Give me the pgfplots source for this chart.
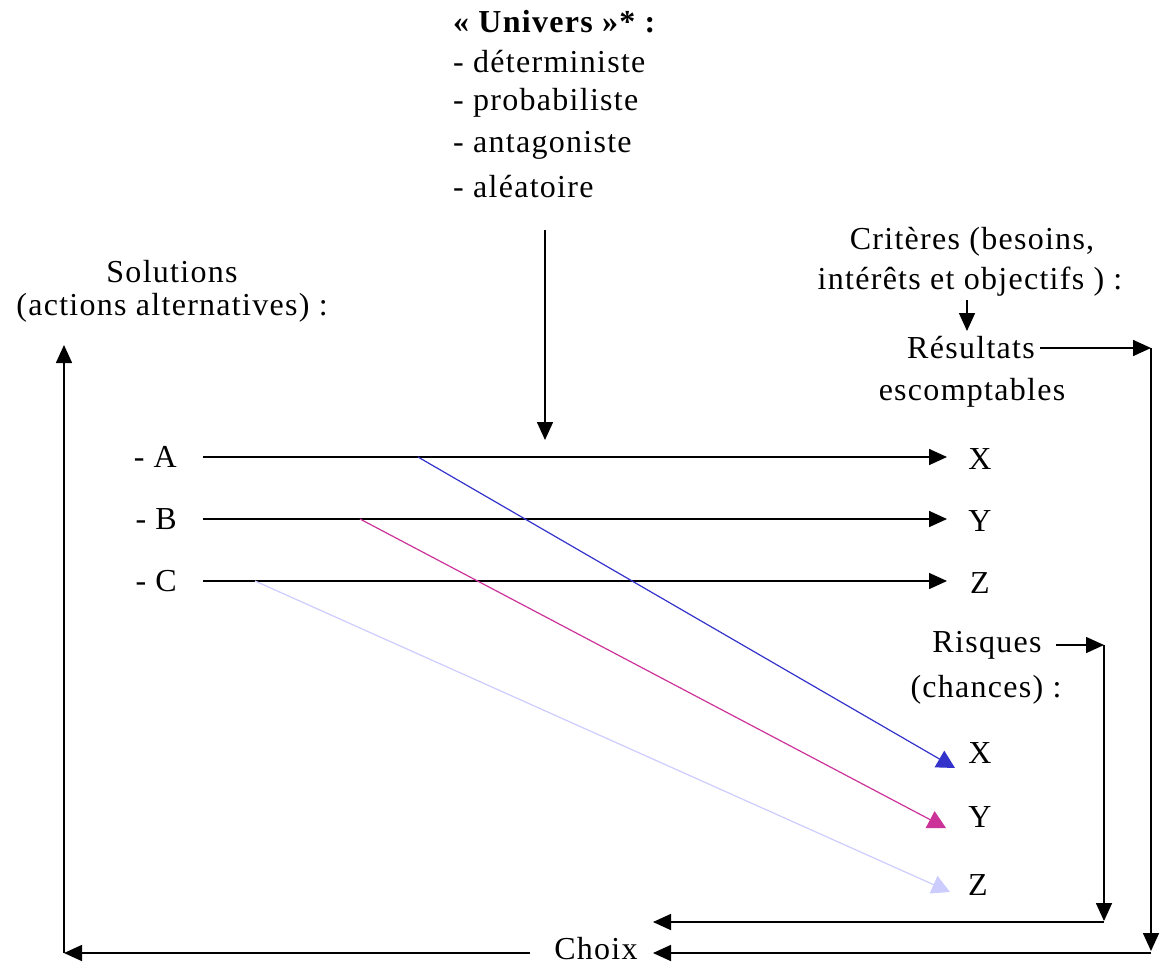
\documentclass[border=0pt]{standalone}
\usepackage{fontspec}
\setmainfont{Liberation Serif}[LetterSpace=4]
\usepackage{pgfplots}
\pgfplotsset{compat=1.18}
\usetikzlibrary{arrows.meta}

\definecolor{cblue}{RGB}{51,51,204}
\definecolor{cmag}{RGB}{204,51,153}
\definecolor{clav}{RGB}{204,204,255}

\tikzset{
  txt/.style={inner sep=0pt, font=\fontsize{32bp}{38bp}\selectfont},
}
\pgfplotsset{
  blk/.style={black, line width=1.6bp, -{Triangle[length=18bp,width=16bp]}},
  col/.style={line width=1.2bp, -{Triangle[length=18bp,width=19bp]}},
}

\begin{document}
\begin{tikzpicture}
\begin{axis}[
    scale only axis,
    width=1160bp, height=967bp,
    xmin=0, xmax=1160, ymin=0, ymax=967,
    y dir=reverse,
    hide axis, clip=false,
  ]
\path (rel axis cs:0,0) rectangle (rel axis cs:1,1);

% univers -> arrow down
\addplot[blk] coordinates {(545,230) (545,440)};
% the three actions
\addplot[blk] coordinates {(203,457) (947,457)};
\addplot[blk] coordinates {(203,519) (947,519)};
\addplot[blk] coordinates {(203,581) (947,581)};
% risks
\addplot[col, cblue] coordinates {(418,457) (955,768)};
\addplot[col, cmag] coordinates {(360,519) (946,828)};
\addplot[col, clav] coordinates {(255,581) (950,892)};
% criteres -> resultats
\addplot[blk] coordinates {(967,300) (967,331)};
\addplot[blk] coordinates {(1040,348) (1151,348)};
\addplot[blk] coordinates {(1151,348) (1151,951)};
\addplot[blk] coordinates {(1151,953) (653,953)};
% risques loop
\addplot[blk] coordinates {(1056,645) (1104,645)};
\addplot[blk] coordinates {(1104,645) (1104,921)};
\addplot[blk] coordinates {(1104,922) (653,922)};
% choix -> solutions
\addplot[blk] coordinates {(530,953) (64,953)};
\addplot[blk] coordinates {(64,953) (64,345)};

% texts
\node[txt, anchor=west, font=\fontsize{32bp}{38bp}\selectfont\bfseries] at (axis cs:453,22) {« Univers »* :};
\node[txt, anchor=west] at (axis cs:453,62) {- déterministe};
\node[txt, anchor=west] at (axis cs:453,103) {- probabiliste};
\node[txt, anchor=west] at (axis cs:453,145) {- antagoniste};
\node[txt, anchor=west] at (axis cs:453,187) {- aléatoire};

\node[txt] at (axis cs:172,272) {Solutions};
\node[txt] at (axis cs:172,308) {(actions alternatives) :};

\node[txt] at (axis cs:972,242) {Critères (besoins,};
\node[txt] at (axis cs:970,282) {intérêts et objectifs ) :};
\node[txt] at (axis cs:971,348) {Résultats};
\node[txt] at (axis cs:972,393) {escomptables};

\node[txt, anchor=east] at (axis cs:177,457) {- A};
\node[txt, anchor=east] at (axis cs:177,519) {- B};
\node[txt, anchor=east] at (axis cs:177,581) {- C};

\node[txt] at (axis cs:980,459) {X};
\node[txt] at (axis cs:980,521) {Y};
\node[txt] at (axis cs:980,583) {Z};

\node[txt] at (axis cs:987,645) {Risques};
\node[txt] at (axis cs:986,690) {(chances) :};

\node[txt] at (axis cs:980,753) {X};
\node[txt] at (axis cs:980,817) {Y};
\node[txt] at (axis cs:978,885) {Z};

\node[txt] at (axis cs:596,949) {Choix};
\end{axis}
\end{tikzpicture}
\end{document}
